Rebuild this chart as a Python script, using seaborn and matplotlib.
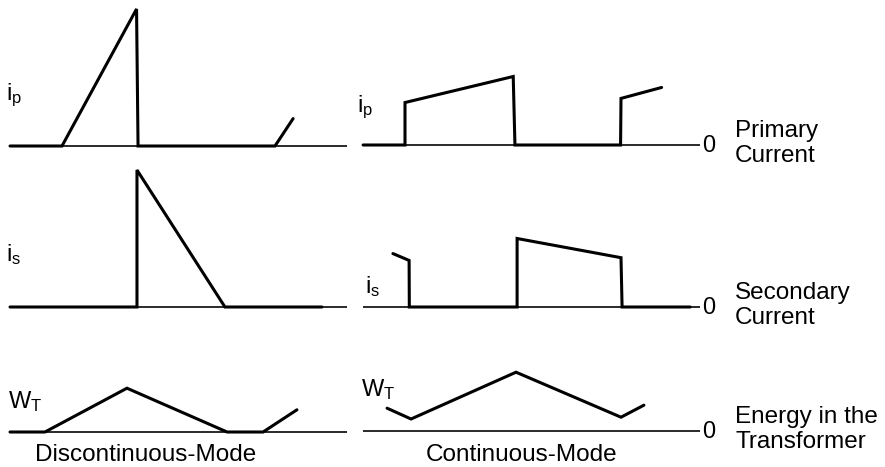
import matplotlib
matplotlib.use("Agg")
import matplotlib.pyplot as plt
import seaborn as sns

W_PX, H_PX = 885, 467

# time in tenths of a switching period, t = 0 at switch turn-on
# amplitudes normalised: currents to the discontinuous peak, energy to the continuous peak
disc_t_ip = [-2.44, 0.0, 3.50, 3.57, 10.0, 10.85]
disc_ip = [0, 0, 1.0, 0, 0, 0.20]
disc_t_is = [-2.44, 3.52, 3.52, 7.65, 12.2]
disc_is = [0, 0, 1.0, 0, 0]
disc_t_w = [-2.44, -0.80, 3.05, 7.75, 9.44, 11.03]
disc_w = [0, 0, 0.73, 0, 0, 0.37]

cont_t_ip = [-1.94, 0.0, 0.0, 5.01, 5.09, 9.98, 10.0, 11.88]
cont_ip = [0, 0, 0.31, 0.50, 0, 0, 0.34, 0.42]
cont_t_is = [-0.56, 0.19, 0.20, 5.19, 5.19, 10.0, 10.05, 13.2]
cont_is = [0.39, 0.34, 0, 0, 0.50, 0.36, 0, 0]
cont_t_w = [-0.83, 0.28, 5.14, 10.0, 11.06]
cont_w = [0.38, 0.20, 0.98, 0.23, 0.43]

row_names = ["Primary\nCurrent", "Secondary\nCurrent", "Energy in the\nTransformer"]
disc_labels = [r"$\mathregular{i_p}$", r"$\mathregular{i_s}$", r"$\mathregular{W_T}$"]
cont_labels = [r"$\mathregular{i_p}$", r"$\mathregular{i_s}$", r"$\mathregular{W_T}$"]
mode_titles = ["Discontinuous-Mode", "Continuous-Mode"]

sns.set_theme(style="white")
plt.rcParams["font.family"] = ["Liberation Sans", "DejaVu Sans"]
plt.rcParams["text.color"] = "black"
plt.rcParams["mathtext.fontset"] = "custom"
plt.rcParams["mathtext.rm"] = "Liberation Sans"

fig = plt.figure(figsize=(W_PX / 100, H_PX / 100), dpi=100)


def fx(px):
    return px / W_PX


def fy(py):
    return 1 - py / H_PX


def add_panel(x_left, x_right, x0, k, base, scale, top=1.08, pad=10):
    """Axes whose data origin sits on the baseline pixel row."""
    y_top = base - top * scale
    y_bot = base + pad
    ax = fig.add_axes([fx(x_left), fy(y_bot), fx(x_right - x_left), (y_bot - y_top) / H_PX])
    ax.set_xlim((x_left - x0) / k, (x_right - x0) / k)
    ax.set_ylim(-pad / scale, top)
    ax.set_axis_off()
    ax.axhline(0, color="#2a2a2a", lw=1.4, zorder=1)
    return ax


def trace(ax, t, v):
    sns.lineplot(x=t, y=v, ax=ax, sort=False, estimator=None, color="black",
                 linewidth=2.2, solid_joinstyle="miter", clip_on=False, zorder=2)


# column geometry: (left px, right px, t=0 px, px per time unit)
left_col = (10, 347, 62, 21.3)
right_col = (363, 700, 405, 21.6)
left_bases = [146, 307, 432]
right_bases = [145, 307, 431]
scales = [137, 137, 60]

disc_data = [(disc_t_ip, disc_ip), (disc_t_is, disc_is), (disc_t_w, disc_w)]
cont_data = [(cont_t_ip, cont_ip), (cont_t_is, cont_is), (cont_t_w, cont_w)]

for i in range(3):
    ax = add_panel(*left_col, left_bases[i], scales[i])
    trace(ax, *disc_data[i])
    ax = add_panel(*right_col, right_bases[i], scales[i])
    trace(ax, *cont_data[i])

# waveform labels
lab_kw = dict(fontsize=17, color="black", va="center", ha="left")
for (x, y), s in zip([(6, 95), (6, 255), (8, 402)], disc_labels):
    fig.text(fx(x), fy(y), s, **lab_kw)
for (x, y), s in zip([(357, 107), (365, 287), (361, 390)], cont_labels):
    fig.text(fx(x), fy(y), s, **lab_kw)

# zero marks and row names on the right
for base, name in zip(right_bases, row_names):
    fig.text(fx(702), fy(base + 1), "0", fontsize=17, va="center", ha="left")
    first, second = name.split("\n")
    fig.text(fx(735), fy(base - 8), first, fontsize=17.5, va="baseline", ha="left")
    fig.text(fx(735), fy(base + 17), second, fontsize=17.5, va="baseline", ha="left")

# mode titles
fig.text(fx(146), fy(461), mode_titles[0], fontsize=17.5, va="baseline", ha="center")
fig.text(fx(522), fy(461), mode_titles[1], fontsize=17.5, va="baseline", ha="center")

fig.savefig("out.png", dpi=100)
